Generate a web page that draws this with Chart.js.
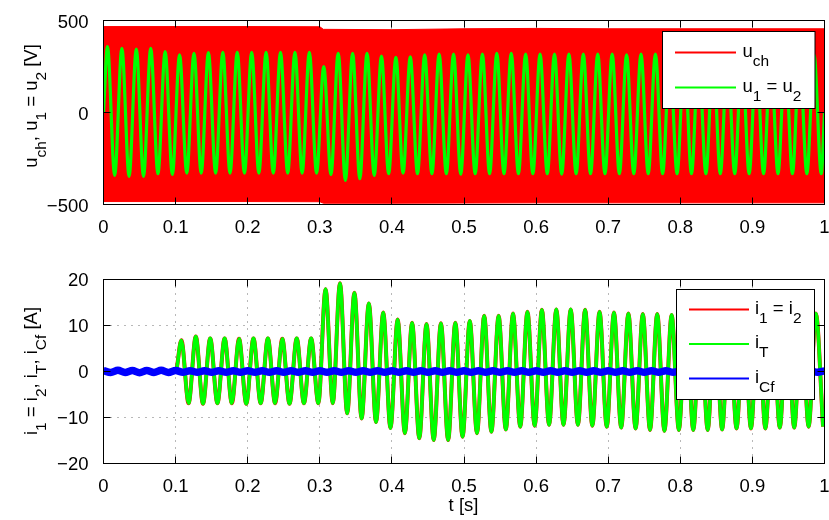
<!DOCTYPE html>
<html><head><meta charset="utf-8">
<script src="https://cdn.jsdelivr.net/npm/chart.js@4.4.0/dist/chart.umd.min.js"></script>
<style>
html,body{margin:0;padding:0;background:#fff;}
#wrap{position:relative;width:829px;height:520px;overflow:hidden;}
canvas{position:absolute;left:0;}
#c1{top:0;} #c2{top:240px;}
</style></head><body>
<div id="wrap"><canvas id="c1" width="829" height="240"></canvas><canvas id="c2" width="829" height="280"></canvas></div>
<script>
// ---------- tick labels ----------
const xTickLabels = ['0','0.1','0.2','0.3','0.4','0.5','0.6','0.7','0.8','0.9','1'];
const uTickLabels = ['\u2212500','0','500'];
const iTickLabels = ['\u221220','\u221210','0','10','20'];

// ---------- top: u1 = u2 (V), successive peaks and troughs (50 Hz) ----------
const uFirstPeak = 0.0055;   // s
const uPeriod = 0.02;        // s
const uPeaks = [358,349,344,349,331,313,322,325,327,327,327,327,327,327,327,250,322,322,322,307,
                300,303,313,318,318,313,318,322,322,318,318,318,318,318,318,318,313,318,318,318,
                318,318,318,318,318,318,318,318,318,313];
const uTroughs = [-342,-347,-347,-333,-337,-329,-329,-329,-329,-329,-329,-329,-329,-329,-329,-337,-369,-360,-342,-333,
                  -329,-333,-333,-333,-335,-333,-333,-333,-333,-333,-333,-335,-333,-333,-333,-333,-333,-333,-333,-333,
                  -333,-333,-333,-333,-333,-333,-333,-333,-333,-333];
// ---------- top: u_ch switching band envelope (V) ----------
const uchTimes = [0, 0.1, 0.2, 0.3, 0.305, 0.4, 0.5, 0.6, 0.7, 0.8, 0.9, 1.0];
const uchMax   = [467, 467, 467, 466, 452, 450, 455, 457, 455, 455, 455, 455];
const uchMin   = [-484,-484,-484,-485,-493,-493,-492,-491,-491,-491,-491,-491];

// ---------- bottom: i1 = i2 and iT (A), successive peaks and troughs ----------
const iStart = 0.1;          // s, load connected
const iFirstPeak = 0.108;    // s
const iPeriod = 0.02;        // s
const iPeaks = [6.8,7.6,7.2,7.2,7.1,7.2,7.2,7.1,7.2,7.2,17.9,19.2,17.1,14.8,12.8,11.3,10.6,10.3,10.5,10.6,
                11.0,12.1,12.1,12.6,13.0,13.4,13.5,13.5,13.4,13.0,12.8,12.6,12.5,12.5,12.3,12.3,12.4,12.4,12.4,12.4,
                12.4,12.5,12.5,12.5,12.6];
const iTroughs = [-6.9,-7.0,-6.9,-6.9,-7.0,-6.9,-6.9,-7.0,-6.9,-6.9,-6.9,-9.1,-10.2,-11.0,-12.3,-13.4,-14.5,-14.9,-14.9,-14.2,
                  -13.4,-13.1,-12.6,-12.0,-11.8,-11.6,-11.6,-11.6,-11.8,-12.0,-12.2,-12.4,-12.7,-12.9,-12.7,-12.7,-12.7,-12.6,-12.4,-12.4,
                  -12.4,-12.2,-12.2,-12.0,-12.0];
// ---------- bottom: iCf (A), sampled every 0.01 s ----------
const iCfStep = 0.01;
const iCf = [0.2,-0.2,0.25,-0.2,0.2,-0.25,0.2,-0.2,0.25,-0.2,0.2,-0.15,0.15,-0.15,0.15,-0.15,0.15,-0.15,0.15,-0.15,
             0.15,-0.15,0.15,-0.15,0.15,-0.15,0.15,-0.15,0.15,-0.15,0.15,-0.15,0.15,-0.15,0.15,-0.15,0.15,-0.15,0.15,-0.15,
             0.15,-0.15,0.15,-0.15,0.15,-0.15,0.15,-0.15,0.15,-0.15,0.15,-0.15,0.15,-0.15,0.15,-0.15,0.15,-0.15,0.15,-0.15,
             0.15,-0.15,0.15,-0.15,0.15,-0.15,0.15,-0.15,0.15,-0.15,0.15,-0.15,0.15,-0.15,0.15,-0.15,0.15,-0.15,0.15,-0.15,
             0.15,-0.15,0.15,-0.15,0.15,-0.15,0.15,-0.15,0.15,-0.15,0.15,-0.15,0.15,-0.15,0.15,-0.15,0.15,-0.15,0.15,-0.15,0.15];

// ---------- build point lists ----------
function extremes(first, period, peaks, troughs) {
  const pts = [];
  for (let k = 0; k < peaks.length; k++) {
    pts.push({x: first + k * period, y: peaks[k]});
    if (k < troughs.length) pts.push({x: first + period / 2 + k * period, y: troughs[k]});
  }
  return pts;
}
const uPts = [{x:0, y:0}].concat(extremes(uFirstPeak, uPeriod, uPeaks, uTroughs), [{x:1, y:0}]);
const uchTop = uchTimes.map((t, i) => ({x: t, y: uchMax[i]}));
const uchBot = uchTimes.map((t, i) => ({x: t, y: uchMin[i]}));
const iPts = [{x:0, y:0}, {x:iStart, y:0}].concat(extremes(iFirstPeak, iPeriod, iPeaks, iTroughs));
const iCfPts = iCf.map((v, i) => ({x: i * iCfStep, y: v}));

// ---------- drawing helpers ----------
const FAM = '"Liberation Sans", Arial, Helvetica, sans-serif';
const MAIN = 18.5, SUB = 15.5, SUBDY = 9;
function fontOf(s) { return (s ? SUB : MAIN) + 'px ' + FAM; }
function richWidth(ctx, segs) {
  let w = 0;
  for (const s of segs) { ctx.font = fontOf(s.s); w += ctx.measureText(s.t).width; }
  return w;
}
function drawRich(ctx, segs, x, y, align) {
  let cx = align === 'center' ? x - richWidth(ctx, segs) / 2 : x;
  ctx.textBaseline = 'alphabetic';
  ctx.textAlign = 'left';
  ctx.fillStyle = '#000';
  for (const s of segs) {
    ctx.font = fontOf(s.s);
    ctx.fillText(s.t, cx, y + (s.s ? SUBDY : 0));
    cx += ctx.measureText(s.t).width;
  }
}
const crisp = v => Math.round(v - 0.5) + 0.5;

const decor = {
  id: 'decor',
  beforeDatasetsDraw(chart, args, o) {
    const {ctx, chartArea: a, scales: {x, y}} = chart;
    ctx.save();
    ctx.strokeStyle = '#707070';
    ctx.lineWidth = 1;
    ctx.setLineDash([1, 6]);
    for (const t of x.ticks) {
      const px = crisp(x.getPixelForValue(t.value));
      if (px <= a.left + 1 || px >= a.right - 1) continue;
      ctx.beginPath(); ctx.moveTo(px, a.top); ctx.lineTo(px, a.bottom); ctx.stroke();
    }
    for (const t of y.ticks) {
      const py = crisp(y.getPixelForValue(t.value));
      if (py <= a.top + 1 || py >= a.bottom - 1) continue;
      ctx.beginPath(); ctx.moveTo(a.left, py); ctx.lineTo(a.right, py); ctx.stroke();
    }
    ctx.restore();
  },
  afterDatasetsDraw(chart, args, o) {
    const {ctx, chartArea: a, scales: {x, y}} = chart;
    ctx.save();
    ctx.strokeStyle = '#000';
    ctx.lineWidth = 1;
    ctx.setLineDash([]);
    const L = 7;
    ctx.beginPath();
    for (const t of x.ticks) {
      const px = crisp(x.getPixelForValue(t.value));
      ctx.moveTo(px, a.bottom); ctx.lineTo(px, a.bottom - L);
      ctx.moveTo(px, a.top); ctx.lineTo(px, a.top + L);
    }
    for (const t of y.ticks) {
      const py = crisp(y.getPixelForValue(t.value));
      ctx.moveTo(a.left, py); ctx.lineTo(a.left + L, py);
      ctx.moveTo(a.right, py); ctx.lineTo(a.right - L, py);
    }
    ctx.stroke();
    ctx.strokeRect(a.left, a.top, a.right - a.left, a.bottom - a.top);
    ctx.restore();
  },
  afterDraw(chart, args, o) {
    const ctx = chart.ctx;
    ctx.save();
    ctx.translate(o.yTitle.x, o.yTitle.y);
    ctx.rotate(-Math.PI / 2);
    drawRich(ctx, o.yTitle.segs, 0, 0, 'center');
    ctx.restore();
    if (o.xTitle) {
      ctx.save();
      drawRich(ctx, o.xTitle.segs, o.xTitle.x, o.xTitle.y, 'center');
      ctx.restore();
    }
    const lg = o.legend;
    ctx.save();
    ctx.fillStyle = '#fff';
    ctx.fillRect(lg.x, lg.y, lg.w, lg.h);
    ctx.strokeStyle = '#000';
    ctx.lineWidth = 1;
    ctx.strokeRect(lg.x, lg.y, lg.w, lg.h);
    lg.items.forEach((it, i) => {
      const ry = lg.rows[i];
      ctx.strokeStyle = it.color;
      ctx.lineWidth = 2;
      ctx.beginPath(); ctx.moveTo(lg.lx0, ry); ctx.lineTo(lg.lx1, ry); ctx.stroke();
      drawRich(ctx, it.segs, lg.tx, ry + 4, 'left');
    });
    ctx.restore();
  }
};

function fixedWidth(w) { return s => { s.width = w; s.paddingTop = 0; s.paddingBottom = 0; }; }
function fixedHeight(h) { return s => { s.height = h; s.paddingLeft = 0; s.paddingRight = 0; }; }
const tickFont = {family: FAM, size: MAIN};

function xScale(h) {
  return {
    type: 'linear', min: 0, max: 1,
    grid: {display: false}, border: {display: false},
    afterFit: fixedHeight(h),
    ticks: {stepSize: 0.1, autoSkip: false, maxRotation: 0, color: '#000', font: tickFont, padding: 4,
            callback: (v, i) => xTickLabels[i]}
  };
}
function yScale(min, max, step, labels, off) {
  return {
    type: 'linear', min: min, max: max,
    grid: {display: false}, border: {display: false},
    afterFit: fixedWidth(103.5),
    ticks: {stepSize: step, autoSkip: false, color: '#000', font: tickFont, padding: 7, labelOffset: off,
            callback: (v, i) => labels[i]}
  };
}

// ---------- top chart ----------
new Chart(document.getElementById('c1'), {
  type: 'line',
  data: {datasets: [
    {label: 'u1 = u2', data: uPts, borderColor: '#00ff00', borderWidth: 3.2, pointRadius: 0,
     cubicInterpolationMode: 'monotone', fill: false, order: 0, clip: 0},
    {label: 'u_ch', data: uchTop, borderColor: '#ff0000', backgroundColor: '#ff0000', borderWidth: 1,
     pointRadius: 0, tension: 0, fill: '+1', order: 1, clip: 0},
    {label: 'u_ch low', data: uchBot, borderColor: '#ff0000', borderWidth: 1, pointRadius: 0,
     tension: 0, fill: false, order: 2, clip: 0}
  ]},
  options: {
    responsive: false, animation: false, devicePixelRatio: 1,
    layout: {padding: {left: 0, top: 20.5, right: 4.5, bottom: 0}},
    scales: {x: xScale(35.5), y: yScale(-500, 500, 500, uTickLabels, 2.5)},
    plugins: {
      legend: {display: false}, tooltip: {enabled: false},
      decor: {
        yTitle: {x: 37, y: 106, segs: [{t:'u'},{t:'ch',s:1},{t:', u'},{t:'1',s:1},{t:' = u'},{t:'2',s:1},{t:' [V]'}]},
        legend: {x: 662.5, y: 31.5, w: 152.5, h: 77, lx0: 675, lx1: 736, tx: 742.5, rows: [52.5, 87.5],
          items: [
            {color: '#ff0000', segs: [{t:'u'},{t:'ch',s:1}]},
            {color: '#00ff00', segs: [{t:'u'},{t:'1',s:1},{t:' = u'},{t:'2',s:1}]}
          ]}
      }
    }
  },
  plugins: [decor]
});

// ---------- bottom chart ----------
new Chart(document.getElementById('c2'), {
  type: 'line',
  data: {datasets: [
    {label: 'iCf', data: iCfPts, borderColor: '#0000ff', borderWidth: 7.5, pointRadius: 0,
     cubicInterpolationMode: 'monotone', fill: false, order: 0, clip: 0},
    {label: 'iT', data: iPts, borderColor: '#00ff00', borderWidth: 3.6, pointRadius: 0,
     cubicInterpolationMode: 'monotone', fill: false, order: 1, clip: 0},
    {label: 'i1 = i2', data: iPts, borderColor: '#ff0000', borderWidth: 4, pointRadius: 0,
     cubicInterpolationMode: 'monotone', fill: false, order: 2, clip: 0}
  ]},
  options: {
    responsive: false, animation: false, devicePixelRatio: 1,
    layout: {padding: {left: 0, top: 39.5, right: 4.5, bottom: 0}},
    scales: {x: xScale(56.5), y: yScale(-20, 20, 10, iTickLabels, 1)},
    plugins: {
      legend: {display: false}, tooltip: {enabled: false},
      decor: {
        yTitle: {x: 37, y: 131, segs: [{t:'i'},{t:'1',s:1},{t:' = i'},{t:'2',s:1},{t:', i'},{t:'T',s:1},{t:', i'},{t:'Cf',s:1},{t:' [A]'}]},
        xTitle: {x: 463.5, y: 271, segs: [{t:'t [s]'}]},
        legend: {x: 676.5, y: 49.5, w: 138, h: 110, lx0: 689, lx1: 749, tx: 755, rows: [69.5, 104, 138.5],
          items: [
            {color: '#ff0000', segs: [{t:'i'},{t:'1',s:1},{t:' = i'},{t:'2',s:1}]},
            {color: '#00ff00', segs: [{t:'i'},{t:'T',s:1}]},
            {color: '#0000ff', segs: [{t:'i'},{t:'Cf',s:1}]}
          ]}
      }
    }
  },
  plugins: [decor]
});
</script>
</body></html>
